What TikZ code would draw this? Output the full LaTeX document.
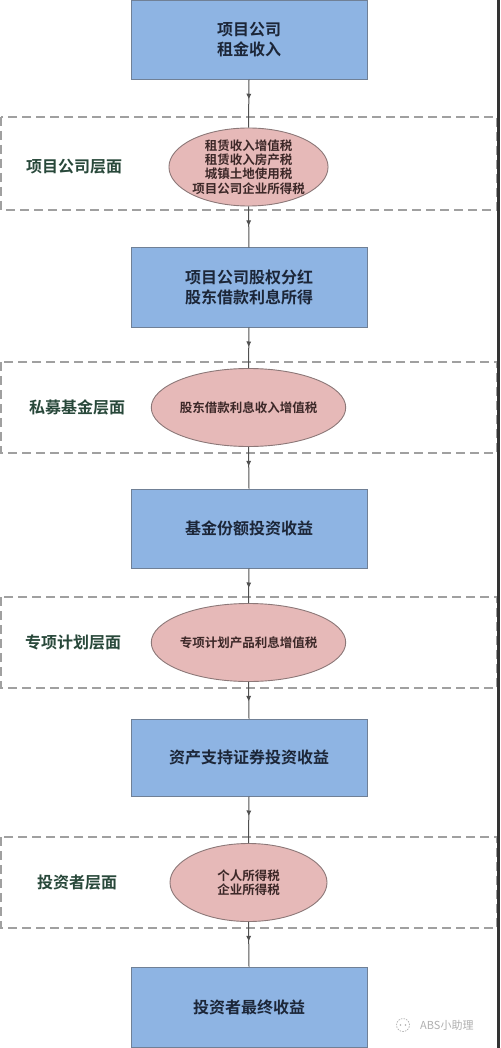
\documentclass[tikz,border=0pt]{standalone}
\usepackage{fontspec}
\setmainfont{Noto Sans CJK SC}[BoldFont={Noto Sans CJK SC Bold}]
\usetikzlibrary{arrows.meta,decorations.markings,shapes.geometric}
\definecolor{boxfill}{RGB}{142,180,227}
\definecolor{boxline}{RGB}{112,128,150}
\definecolor{elfill}{RGB}{230,185,184}
\definecolor{elline}{RGB}{140,120,120}
\definecolor{boxtext}{RGB}{28,38,56}
\definecolor{eltext}{RGB}{60,40,40}
\definecolor{lvltext}{RGB}{40,72,58}
\definecolor{dashcol}{RGB}{160,160,160}
\definecolor{conncol}{RGB}{80,80,80}
\definecolor{wmcol}{RGB}{175,175,175}
\tikzset{
  flowbox/.style={draw=boxline,fill=boxfill,line width=1pt,minimum width=236pt,
    inner sep=0pt,align=center,text=boxtext,font=\bfseries\fontsize{16}{20}\selectfont},
  taxell/.style={ellipse,draw=elline,fill=elfill,line width=0.9pt,minimum width=157pt,
    minimum height=78pt,inner sep=0pt,align=center,text=eltext,
    font=\bfseries\fontsize{12.5}{14.3}\selectfont},
  lvlbox/.style={draw=dashcol,dash pattern=on 9pt off 5pt,line width=1.1pt},
  lvllabel/.style={text=lvltext,font=\bfseries\fontsize{16}{20}\selectfont},
  conn/.style={draw=conncol,line width=1pt,postaction={decorate},
    decoration={markings,mark=at position 19pt with {\arrow{Triangle[width=4.5pt,length=5pt]}}}}
}
\begin{document}
\begin{tikzpicture}[x=1pt,y=-1pt]
\useasboundingbox (0,0) rectangle (500,1048);
\fill[white] (0,0) rectangle (500,1048);
% level frames
\draw[lvlbox] (1,117) rectangle (497,210);
\draw[lvlbox] (1,362) rectangle (497,453);
\draw[lvlbox] (1,597) rectangle (497,688);
\draw[lvlbox] (1,837) rectangle (497,928);
% boxes
\node[flowbox,minimum height=78.5pt] (b1) at (249,40) {项目公司\\租金收入};
\node[flowbox,minimum height=79pt] (b2) at (249,287.5) {项目公司股权分红\\股东借款利息所得};
\node[flowbox,minimum height=79pt] (b3) at (249,528.5) {基金份额投资收益};
\node[flowbox,minimum height=77pt] (b4) at (249,757.5) {资产支持证券投资收益};
\node[flowbox,minimum height=80pt] (b5) at (249,1007) {投资者最终收益};
% ellipses
\node[taxell] (e1) at (248.5,167) {租赁收入增值税\\租赁收入房产税\\城镇土地使用税\\项目公司企业所得税};
\node[taxell] (e2) at (248.5,407.5) {股东借款利息收入增值税};
\node[taxell] (e3) at (248.5,642.5) {专项计划产品利息增值税};
\node[taxell] (e4) at (248.5,882.5) {个人所得税\\企业所得税};
% level labels
\node[lvllabel] (l1) at (74,167) {项目公司层面};
\node[lvllabel] (l2) at (77,407.5) {私募基金层面};
\node[lvllabel] (l3) at (73,642.5) {专项计划层面};
\node[lvllabel] (l4) at (77,882.5) {投资者层面};
% connectors
\begin{scope}[on background layer/.style={}]
\end{scope}
\path[conn] (b1.south) -- (e1.north);
\path[conn] (e1.south) -- (b2.north);
\path[conn] (b2.south) -- (e2.north);
\path[conn] (e2.south) -- (b3.north);
\path[conn] (b3.south) -- (e3.north);
\path[conn] (e3.south) -- (b4.north);
\path[conn] (b4.south) -- (e4.north);
\path[conn] (e4.south) -- (b5.north);
% watermark
\draw[wmcol,line width=0.7pt,dash pattern=on 1.5pt off 1.2pt] (403,1025) circle (6.5pt);
\fill[wmcol] (400.5,1025) circle (0.9pt) (405.5,1025) circle (0.9pt);
\node[text=wmcol,font=\fontsize{11}{13}\selectfont,anchor=west,inner sep=0pt] (wm) at (420,1025) {ABS小助理};
% right edge strip
\fill[black!80] (497,0) rectangle (500,1048);
\end{tikzpicture}
\end{document}
